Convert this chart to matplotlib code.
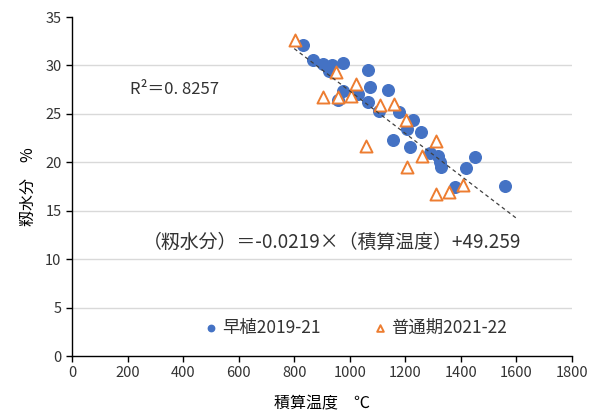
import matplotlib
matplotlib.use("Agg")
import matplotlib.pyplot as plt
import numpy as np

plt.rcParams['font.family'] = ['Noto Sans CJK JP', 'DejaVu Sans']

# 早植 2019-21 (積算温度, 籾水分)
early_x = [833, 866, 904, 935, 924, 974, 1066, 1074, 977, 1030, 956, 1065, 1136, 1106,
           1177, 1229, 1207, 1255, 1157, 1217, 1289, 1319, 1326, 1329, 1420, 1450, 1380, 1557]
early_y = [32.1, 30.6, 30.1, 30.0, 29.4, 30.3, 29.5, 27.8, 27.4, 27.1, 26.4, 26.2, 27.5, 25.3,
           25.2, 24.4, 23.4, 23.1, 22.3, 21.6, 21.0, 20.6, 20.0, 19.5, 19.4, 20.5, 17.4, 17.6]

# 普通期 2021-22
normal_x = [802, 950, 1021, 905, 959, 1004, 1108, 1158, 1201, 1057, 1309, 1259, 1206, 1409, 1358, 1310]
normal_y = [32.6, 29.3, 28.1, 26.7, 26.7, 26.8, 25.9, 26.0, 24.4, 21.7, 22.2, 20.7, 19.5, 17.7, 16.9, 16.7]

# regression
slope = -0.0219
intercept = 49.259
fit_range = [800, 1600]

fig = plt.figure(figsize=(6.03, 4.12), dpi=100)
ax = fig.add_axes([0.1194, 0.1359, 0.8292, 0.8228])

for yv in range(5, 35, 5):
    ax.axhline(yv, color='#d9d9d9', lw=1, zorder=0)

ax.scatter(early_x, early_y, s=70, color='#4472c4', zorder=3, label='早植2019-21')
ax.scatter(normal_x, normal_y, s=75, marker='^', facecolor='white', edgecolor='#ed7d31',
           linewidths=1.4, zorder=4, label='普通期2021-22')

fx = np.array(fit_range)
ax.plot(fx, slope * fx + intercept, color='#404040', lw=0.9, ls=(0, (3, 2.5)), zorder=5)

ax.set_xlim(0, 1800)
ax.set_ylim(0, 35)
ax.set_xticks(range(0, 1801, 200))
ax.set_yticks(range(0, 36, 5))
for s in ['top', 'right']:
    ax.spines[s].set_visible(False)
for s in ['left', 'bottom']:
    ax.spines[s].set_color('black')
    ax.spines[s].set_linewidth(1)
ax.tick_params(direction='out', length=4, width=1, labelsize=10.5, colors='black',
               labelcolor='#333333')

ax.set_xlabel('積算温度　℃', fontsize=11.5, labelpad=11)
ax.set_ylabel('籾水分　%', fontsize=11.5, labelpad=6)

ax.text(210, 27.0, 'R²＝0. 8257', fontsize=12, color='#333333')
ax.text(935, 11.2, '（籾水分）＝-0.0219×（積算温度）+49.259', fontsize=13.6, color='#333333',
        ha='center')

leg = ax.legend(loc='center', bbox_to_anchor=(0.567, 0.083), ncol=2, frameon=False,
                fontsize=12.5, handlelength=0.8, handletextpad=0.25, columnspacing=3.0,
                markerscale=0.55)
for t in leg.get_texts():
    t.set_color('#333333')

fig.savefig('out.png', dpi=100)
